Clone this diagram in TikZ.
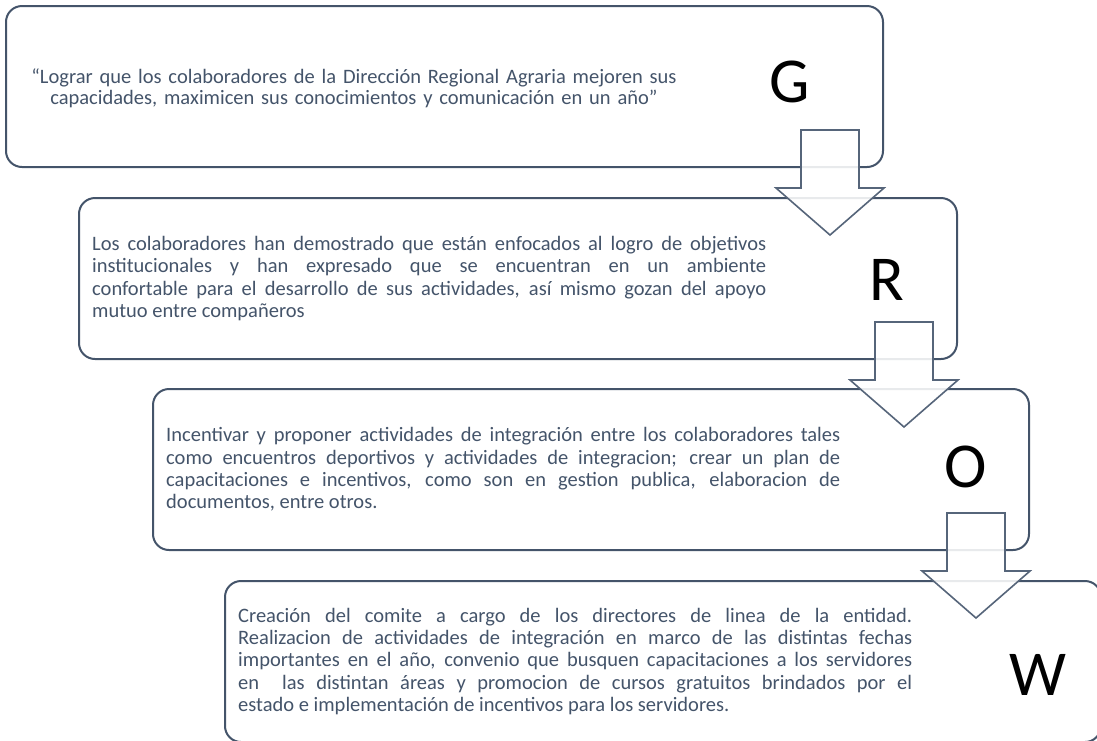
\documentclass[tikz,border=0pt]{standalone}
\usepackage{fontspec}
\setmainfont{Carlito}
\usetikzlibrary{calc}
\definecolor{slate}{HTML}{44546A}
\definecolor{arrowc}{HTML}{56657A}
\newcommand{\grarrow}[1]{%
  \draw[blockarrow] ($(#1)+(-29,-37)$) -- ($(#1)+(29,-37)$) -- ($(#1)+(29,21)$) -- ($(#1)+(54,21)$) -- ($(#1)+(0,68)$) -- ($(#1)+(-54,21)$) -- ($(#1)+(-29,21)$) -- cycle;}
\begin{document}
\begin{tikzpicture}[x=1pt,y=-1pt,
  box/.style={draw=slate, line width=2pt, rounded corners=16pt, fill=white, inner sep=0pt, outer sep=0pt, minimum height=161pt, anchor=north west},
  body/.style={text=slate, font=\fontsize{20.5}{22.3}\selectfont, text width=674pt, align=justify, inner sep=0pt, anchor=west},
  centred/.style={text=slate, font=\fontsize{20.5}{21}\selectfont, text width=690pt, align=center, inner sep=0pt},
  letter/.style={font=\fontsize{64}{64}\selectfont, text=black, inner sep=0pt},
  blockarrow/.style={draw=arrowc, line width=1.6pt, fill=white, fill opacity=0.88, line join=miter}]
\useasboundingbox (0,0) rectangle (1097,740);
\clip (0,0) rectangle (1097,740);

\node[box, minimum width=877pt] (b1) at (6,6) {};
\node[box, minimum width=878pt] (b2) at (79,198) {};
\node[box, minimum width=876pt] (b3) at (153,389) {};
\node[box, minimum width=876pt] (b4) at (225,581) {};

\node[centred] (t1) at (354,88) {“Lograr que los colaboradores de la Dirección Regional Agraria mejoren sus\\capacidades, maximicen sus conocimientos y comunicación en un año”};

\node[body] (t2) at ($(b2.west)+(13,0)$) {Los colaboradores han demostrado que están enfocados al logro de objetivos\linebreak institucionales y han expresado que se encuentran en un ambiente\linebreak confortable para el desarrollo de sus actividades, así mismo gozan del apoyo\linebreak mutuo entre compañeros};

\node[body] (t3) at ($(b3.west)+(13,0)$) {Incentivar y proponer actividades de integración entre los colaboradores tales\linebreak como encuentros deportivos y actividades de integracion; crear un plan de\linebreak capacitaciones e incentivos, como son en gestion publica, elaboracion de\linebreak documentos, entre otros.};

\node[body] (t4) at ($(b4.west)+(13,0)$) {Creación del comite a cargo de los directores de linea de la entidad.\linebreak Realizacion de actividades de integración en marco de las distintas fechas\linebreak importantes en el año, convenio que busquen capacitaciones a los servidores\linebreak en\ \ las distintan áreas y promocion de cursos gratuitos brindados por el\linebreak estado e implementación de incentivos para los servidores.};

\node[letter] (lg) at (790,82) {G};
\node[letter] (lr) at (887,280) {R};
\node[letter] (lo) at (966,467) {O};
\node[letter] (lw) at (1038,675) {W};

\coordinate (a1) at ($(b1.south east)+(-53,0)$);
\coordinate (a2) at ($(b2.south east)+(-53,0)$);
\coordinate (a3) at ($(b3.south east)+(-53,0)$);
\grarrow{a1}
\grarrow{a2}
\grarrow{a3}
\end{tikzpicture}
\end{document}
